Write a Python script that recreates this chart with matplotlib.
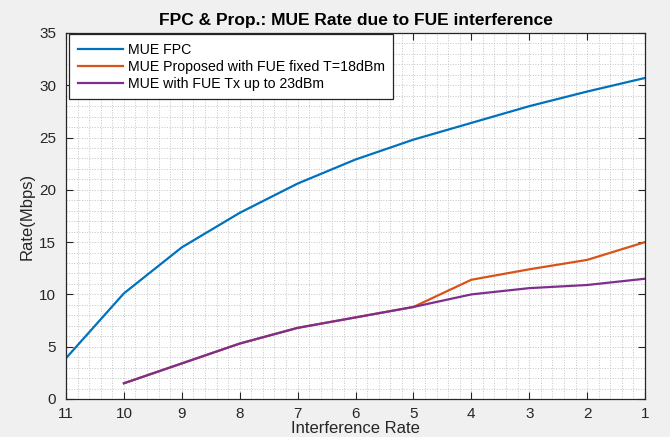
import matplotlib
matplotlib.use('Agg')
import matplotlib.pyplot as plt
from matplotlib.ticker import MultipleLocator

plt.rcParams['font.family'] = ['Liberation Sans', 'DejaVu Sans']

# Interference rate (x axis, reversed)
x_fpc = [11, 10, 9, 8, 7, 6, 5, 4, 3, 2, 1]
x_prop = [10, 9, 8, 7, 6, 5, 4, 3, 2, 1]

# Rates (Mbps)
mue_fpc = [3.9, 10.1, 14.5, 17.8, 20.6, 22.9, 24.8, 26.4, 28.0, 29.4, 30.7]
mue_fixed = [1.5, 3.4, 5.3, 6.8, 7.8, 8.8, 11.4, 12.4, 13.3, 15.0]
mue_fue23 = [1.5, 3.4, 5.3, 6.8, 7.8, 8.8, 10.0, 10.6, 10.9, 11.5]

fig = plt.figure(figsize=(6.7, 4.37), dpi=100, facecolor='#f0f0f0')
ax = fig.add_axes([0.0985, 0.087, 0.8642, 0.8375])
ax.set_facecolor('white')

ax.plot(x_fpc, mue_fpc, color='#0072BD', lw=1.6, label='MUE FPC')
ax.plot(x_prop, mue_fixed, color='#D95319', lw=1.6, label='MUE Proposed with FUE fixed T=18dBm')
ax.plot(x_prop, mue_fue23, color='#7E2F8E', lw=1.6, label='MUE with FUE Tx up to 23dBm')

ax.set_xlim(11, 1)
ax.set_ylim(0, 35)
ax.xaxis.set_major_locator(MultipleLocator(1))
ax.xaxis.set_minor_locator(MultipleLocator(0.2))
ax.yaxis.set_major_locator(MultipleLocator(5))
ax.yaxis.set_minor_locator(MultipleLocator(1))

ax.grid(which='both', color='#c4c4c4', linestyle=':', linewidth=0.7)
ax.set_axisbelow(True)
ax.tick_params(which='major', direction='in', top=True, right=True, length=5,
               labelsize=11, colors='#262626')
ax.tick_params(axis='x', which='major', pad=6)
ax.tick_params(axis='y', which='major', pad=7)
ax.tick_params(which='minor', length=0, top=True, right=True)
for s in ax.spines.values():
    s.set_color('#262626')
    s.set_linewidth(0.9)

ax.set_title('FPC & Prop.: MUE Rate due to FUE interference', fontsize=12.5,
             fontweight='bold', pad=6)
ax.set_xlabel('Interference Rate', fontsize=12, color='#262626', labelpad=0)
ax.set_ylabel('Rate(Mbps)', fontsize=12, color='#262626', labelpad=3)

leg = ax.legend(loc='upper left', fontsize=10.2, fancybox=False, framealpha=1,
                edgecolor='#262626', borderpad=0.6, handlelength=3.2,
                handletextpad=0.3, labelspacing=0.2,
                bbox_to_anchor=(0.006, 0.996), borderaxespad=0)
leg.get_frame().set_linewidth(0.9)

fig.savefig('out.png', dpi=100, facecolor=fig.get_facecolor())
